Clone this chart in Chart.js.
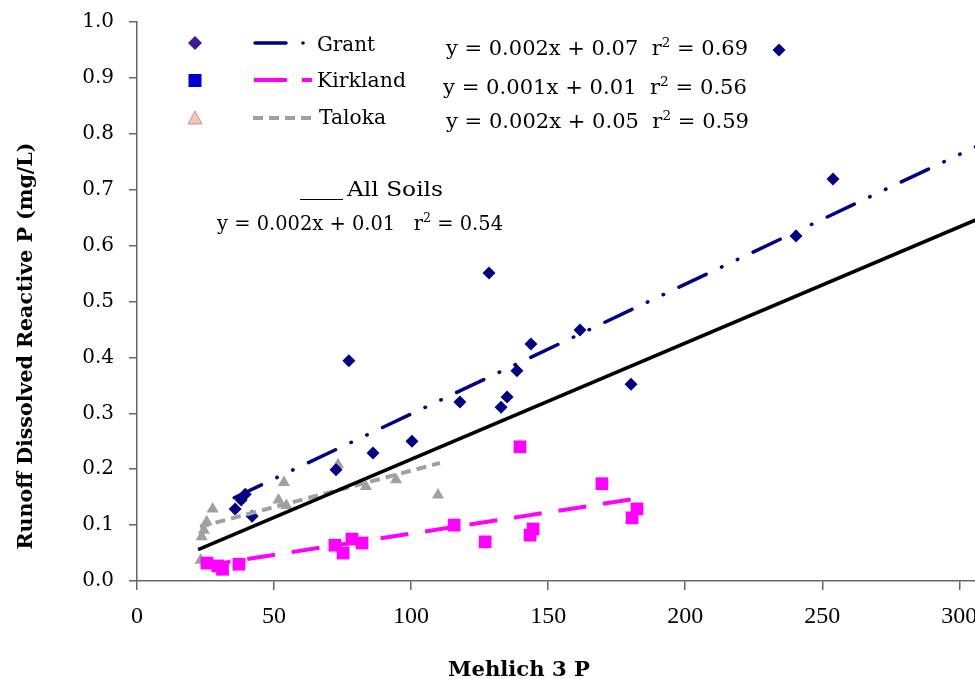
<!DOCTYPE html>
<html>
<head>
<meta charset="utf-8">
<script src="https://cdn.jsdelivr.net/npm/chart.js@4/dist/chart.umd.min.js"></script>
<style>
html,body{margin:0;padding:0;background:#fff;overflow:hidden}
#wrap{width:975px;height:679px;position:relative}
</style>
</head>
<body>
<div id="wrap"><canvas id="c" width="975" height="679"></canvas></div>
<script>
// ---- data ----
const grantX = [35.8, 38.0, 39.5, 42.0, 72.6, 77.3, 86.1, 100.3, 117.8, 128.4, 132.8, 135.0, 138.6, 143.7, 161.6, 180.2, 234.2, 240.4, 253.9];
const grantY = [0.129, 0.145, 0.155, 0.116, 0.199, 0.394, 0.229, 0.250, 0.320, 0.551, 0.311, 0.329, 0.376, 0.424, 0.449, 0.352, 0.950, 0.617, 0.719];

const kirklandX = [25.5, 29.5, 31.2, 37.2, 72.2, 75.2, 78.4, 82.1, 115.7, 127.0, 139.7, 143.4, 144.5, 169.6, 180.6, 182.4];
const kirklandY = [0.032, 0.027, 0.021, 0.030, 0.064, 0.050, 0.075, 0.068, 0.100, 0.070, 0.240, 0.082, 0.093, 0.174, 0.113, 0.129];

const talokaX = [23.2, 23.6, 24.4, 25.4, 27.6, 51.6, 53.6, 54.5, 73.3, 83.5, 94.5, 109.8];
const talokaY = [0.037, 0.079, 0.091, 0.106, 0.129, 0.145, 0.176, 0.135, 0.208, 0.169, 0.181, 0.154];

// trendline end points
const grantTrendX = [35.5, 306];
const grantTrendY = [0.149, 0.777];
const kirklandTrendX = [24, 183];
const kirklandTrendY = [0.027, 0.148];
const talokaTrendX = [23, 110.5];
const talokaTrendY = [0.097, 0.211];
const allTrendX = [22.3, 306];
const allTrendY = [0.056, 0.646];

const xTicks = [0, 50, 100, 150, 200, 250, 300];
const yTicks = [0.0, 0.1, 0.2, 0.3, 0.4, 0.5, 0.6, 0.7, 0.8, 0.9, 1.0];

const seriesNames = ['Grant', 'Kirkland', 'Taloka'];
const seriesEquations = [
  ['y = 0.002x + 0.07  r', '2', ' = 0.69'],
  ['y = 0.001x + 0.01  r', '2', ' = 0.56'],
  ['y = 0.002x + 0.05  r', '2', ' = 0.59']
];
const allSoilsLabel = 'All Soils';
const allSoilsEquation = ['y = 0.002x + 0.01   r', '2', ' = 0.54'];
const xTitle = 'Mehlich 3 P';
const yTitle = 'Runoff Dissolved Reactive P (mg/L)';

// ---- helpers ----
const pts = (xs, ys) => xs.map((x, i) => ({x: x, y: ys[i]}));

const NAVY = '#000080', MAGENTA = '#FF00FF', GRAY = '#A0A0A0';
const GRANT_DASH = [30, 17, 0.5, 17, 0.5, 17];
const KIRK_DASH = [28, 17];
const TAL_DASH = [10, 6];

function drawSegs(ctx, segs, x, y, targetW, font, supFont) {
  const widths = [];
  let total = 0;
  segs.forEach((s, i) => {
    ctx.font = (i === 1 && segs.length === 3) ? supFont : font;
    const w = ctx.measureText(s).width;
    widths.push(w); total += w;
  });
  const sx = targetW ? targetW / total : 1;
  ctx.save();
  ctx.translate(x, y);
  ctx.scale(sx, 1);
  let cx = 0;
  segs.forEach((s, i) => {
    const sup = (i === 1 && segs.length === 3);
    ctx.font = sup ? supFont : font;
    ctx.fillText(s, cx, sup ? -8 : 0);
    cx += widths[i];
  });
  ctx.restore();
}

const annotPlugin = {
  id: 'annot',
  afterDraw(chart) {
    const ctx = chart.ctx;
    ctx.save();
    ctx.fillStyle = '#000';
    ctx.textBaseline = 'alphabetic';
    ctx.textAlign = 'left';
    const F = '20px "DejaVu Serif"';
    const FS = '13px "DejaVu Serif"';

    // legend markers
    ctx.fillStyle = '#3F1B8F';
    ctx.beginPath();
    ctx.moveTo(195, 36); ctx.lineTo(202, 43); ctx.lineTo(195, 50); ctx.lineTo(188, 43); ctx.closePath(); ctx.fill();
    ctx.fillStyle = '#0000CC';
    ctx.fillRect(188.5, 74, 13, 13);
    ctx.fillStyle = '#F0C8B8';
    ctx.strokeStyle = '#D09080';
    ctx.lineWidth = 1;
    ctx.beginPath();
    ctx.moveTo(195, 111); ctx.lineTo(202, 124); ctx.lineTo(188, 124); ctx.closePath(); ctx.fill(); ctx.stroke();

    // legend lines
    ctx.lineCap = 'round';
    ctx.lineWidth = 3.5;
    ctx.strokeStyle = NAVY;
    ctx.setLineDash([]);
    ctx.beginPath(); ctx.moveTo(255, 43); ctx.lineTo(286, 43); ctx.stroke();
    ctx.beginPath(); ctx.arc(303, 43, 1.8, 0, Math.PI * 2); ctx.fillStyle = NAVY; ctx.fill();

    ctx.lineCap = 'butt';
    ctx.lineWidth = 4;
    ctx.strokeStyle = MAGENTA;
    ctx.beginPath(); ctx.moveTo(254, 80); ctx.lineTo(287, 80); ctx.moveTo(302, 80); ctx.lineTo(312, 80); ctx.stroke();

    ctx.strokeStyle = GRAY;
    ctx.setLineDash([10, 6]);
    ctx.beginPath(); ctx.moveTo(253, 118); ctx.lineTo(313, 118); ctx.stroke();
    ctx.setLineDash([]);

    // legend labels
    ctx.fillStyle = '#000';
    drawSegs(ctx, [seriesNames[0]], 317, 51, 58, F, FS);
    drawSegs(ctx, [seriesNames[1]], 317, 87, 89, F, FS);
    drawSegs(ctx, [seriesNames[2]], 319, 124, 67, F, FS);

    // equations
    drawSegs(ctx, seriesEquations[0], 446, 55, 302, F, FS);
    drawSegs(ctx, seriesEquations[1], 443, 94, 304, F, FS);
    drawSegs(ctx, seriesEquations[2], 446, 128, 303, F, FS);

    // all soils
    ctx.strokeStyle = '#000';
    ctx.lineWidth = 1.2;
    ctx.beginPath(); ctx.moveTo(300, 199.5); ctx.lineTo(343, 199.5); ctx.stroke();
    drawSegs(ctx, [allSoilsLabel], 347, 196, 96, F, FS);
    drawSegs(ctx, allSoilsEquation, 217, 230, 286, F, FS);

    // axis titles
    const FB = 'bold 20px "DejaVu Serif"';
    ctx.save();
    ctx.translate(32, 346);
    ctx.rotate(-Math.PI / 2);
    ctx.font = FB;
    const wy = ctx.measureText(yTitle).width;
    ctx.scale(407 / wy, 1);
    ctx.textAlign = 'center';
    ctx.fillText(yTitle, 0, 0);
    ctx.restore();

    ctx.save();
    ctx.font = FB;
    const wx = ctx.measureText(xTitle).width;
    ctx.translate(519, 676);
    ctx.scale(142 / wx, 1);
    ctx.textAlign = 'center';
    ctx.fillText(xTitle, 0, 0);
    ctx.restore();

    ctx.restore();
  }
};

new Chart(document.getElementById('c'), {
  type: 'scatter',
  data: {
    datasets: [
      {label: 'All Soils trend', type: 'line', data: pts(allTrendX, allTrendY), borderColor: '#000', borderWidth: 3.5, pointRadius: 0, fill: false, order: 0},
      {label: 'Grant trend', type: 'line', data: pts(grantTrendX, grantTrendY), borderColor: NAVY, borderWidth: 3.5, borderDash: GRANT_DASH, borderCapStyle: 'round', pointRadius: 0, fill: false, order: 0},
      {label: 'Kirkland trend', type: 'line', data: pts(kirklandTrendX, kirklandTrendY), borderColor: MAGENTA, borderWidth: 4, borderDash: KIRK_DASH, pointRadius: 0, fill: false, order: 0},
      {label: 'Taloka trend', type: 'line', data: pts(talokaTrendX, talokaTrendY), borderColor: GRAY, borderWidth: 4, borderDash: TAL_DASH, pointRadius: 0, fill: false, order: 0},
      {label: 'Grant', data: pts(grantX, grantY), pointStyle: 'rectRot', pointRadius: 6.5, backgroundColor: NAVY, borderColor: NAVY, borderWidth: 0, order: 1},
      {label: 'Kirkland', data: pts(kirklandX, kirklandY), pointStyle: 'rect', pointRadius: 9, backgroundColor: MAGENTA, borderColor: MAGENTA, borderWidth: 0, order: 1},
      {label: 'Taloka', data: pts(talokaX, talokaY), pointStyle: 'triangle', pointRadius: 7, backgroundColor: GRAY, borderColor: GRAY, borderWidth: 0, order: 1}
    ]
  },
  options: {
    responsive: false,
    devicePixelRatio: 1,
    animation: false,
    events: [],
    layout: {autoPadding: false, padding: {top: 22, right: 0, left: 0, bottom: 0}},
    plugins: {legend: {display: false}, tooltip: {enabled: false}},
    scales: {
      x: {
        type: 'linear',
        min: 0,
        max: 305.7,
        afterBuildTicks: (s) => { s.ticks = xTicks.map(v => ({value: v})); },
        afterFit: (s) => { s.height = 98; s.paddingLeft = 0; s.paddingRight = 0; },
        ticks: {
          includeBounds: false,
          padding: 12,
          color: '#000',
          maxRotation: 0,
          autoSkip: false,
          font: {family: '"Liberation Serif"', size: 24},
          callback: (v) => String(v)
        },
        grid: {drawOnChartArea: false, drawTicks: true, tickLength: 9, color: '#666', lineWidth: 1.5},
        border: {display: true, color: '#666', width: 1.5}
      },
      y: {
        type: 'linear',
        min: 0,
        max: 1,
        afterBuildTicks: (s) => { s.ticks = yTicks.map(v => ({value: v})); },
        afterFit: (s) => { s.width = 137; s.paddingTop = 0; s.paddingBottom = 0; },
        ticks: {
          padding: 15,
          color: '#000',
          autoSkip: false,
          font: {family: '"DejaVu Serif"', size: 20},
          callback: (v) => Number(v).toFixed(1)
        },
        grid: {drawOnChartArea: false, drawTicks: true, tickLength: 8, color: '#666', lineWidth: 1.5},
        border: {display: true, color: '#666', width: 1.5}
      }
    }
  },
  plugins: [annotPlugin]
});
</script>
</body>
</html>
